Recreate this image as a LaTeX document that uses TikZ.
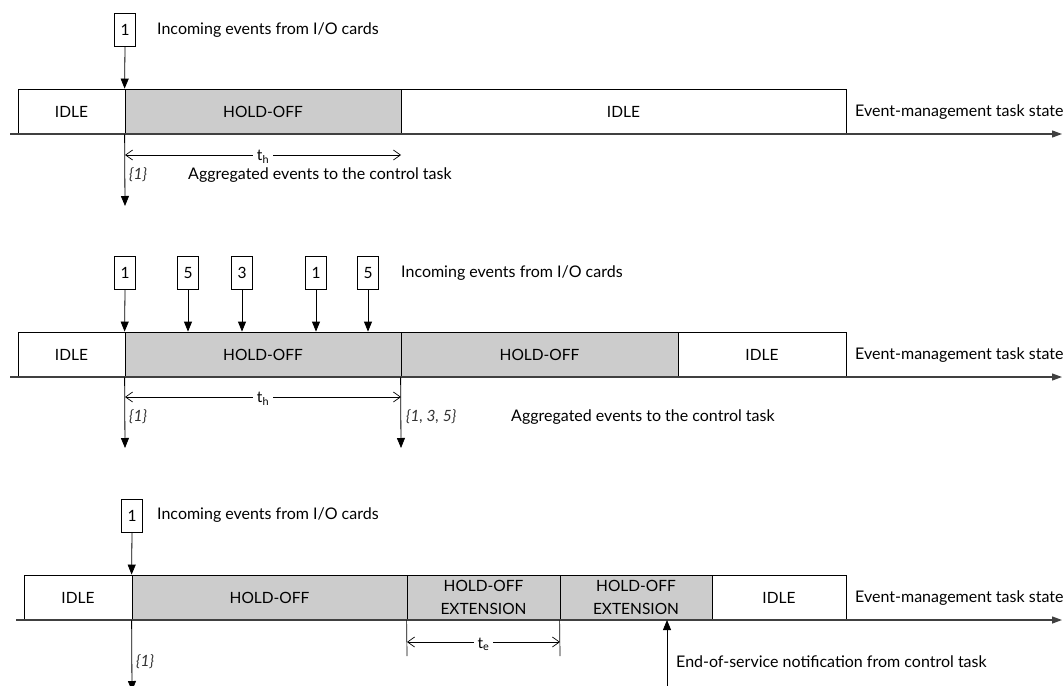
\documentclass[tikz,border=0pt]{standalone}
\usepackage{fontspec}
\setmainfont{Lato}
\usetikzlibrary{arrows.meta}
\definecolor{holdgray}{RGB}{204,204,204}
\tikzset{
  seg/.style={draw, line width=0.8pt, minimum height=45pt, inner sep=0pt, font=\fontsize{15.5}{23}\selectfont, align=center},
  held/.style={seg, fill=holdgray},
  evbox/.style={draw, line width=0.7pt, minimum width=21pt, minimum height=33pt, inner sep=0pt, font=\fontsize{15.5}{17}\selectfont},
  txt/.style={anchor=west, inner sep=0pt, font=\fontsize{16}{18}\selectfont},
  itxt/.style={anchor=west, inner sep=0pt, font=\fontsize{15.5}{17}\selectfont\itshape, text=black!80},
  evarrow/.style={line width=0.8pt, -{Triangle[length=10pt,width=8pt]}},
  axisline/.style={line width=1.2pt, draw=black!75, -{Triangle[length=10pt,width=7pt]}},
  dimline/.style={line width=0.7pt, {Straight Barb[length=7pt,width=10pt]}-{Straight Barb[length=7pt,width=10pt]}},
  dimlabel/.style={fill=white, inner sep=4pt, font=\fontsize{15.5}{17}\selectfont},
  tick/.style={line width=0.7pt}
}
\begin{document}
\begin{tikzpicture}[x=1pt, y=-1pt]
\useasboundingbox (0,0) rectangle (1064,685);
\clip (0,0) rectangle (1064,685);

% ---------- first time line: single event ----------
\node[seg,  minimum width=107pt] (a1) at (71.5,111.5) {IDLE};
\node[held, minimum width=276pt] (a2) at (263,111.5) {HOLD-OFF};
\node[seg,  minimum width=445pt] (a3) at (623.5,111.5) {IDLE};
\node[txt] (astate) at (855,112) {Event-management task state};
\coordinate (aax0) at (10,134);
\coordinate (aax1) at (1062,134);
\draw[axisline] (aax0) -- (aax1);

\node[evbox] (ae1) at (125,29.5) {1};
\node[txt] (ain) at (157,30) {Incoming events from I/O cards};
\draw[evarrow] (ae1.south) -- (a2.north west);

\coordinate (ad0) at (125,155);
\coordinate (ad1) at (401,155);
\draw[dimline] (ad0) -- (ad1);
\node[dimlabel] (ath) at (263,157) {t\textsubscript{h}};

\coordinate (aout) at (125,206);
\draw[evarrow] (a2.south west) -- (aout);
\node[itxt] (aset) at (129,175) {\{1\}};
\node[txt] (aagg) at (188,175) {Aggregated events to the control task};

% ---------- second time line: events during hold-off ----------
\node[seg,  minimum width=107pt] (b1) at (71.5,354.5) {IDLE};
\node[held, minimum width=276pt] (b2) at (263,354.5) {HOLD-OFF};
\node[held, minimum width=277pt] (b3) at (539.5,354.5) {HOLD-OFF};
\node[seg,  minimum width=168pt] (b4) at (762,354.5) {IDLE};
\node[txt] (bstate) at (855,355) {Event-management task state};
\coordinate (bax0) at (10,377);
\coordinate (bax1) at (1062,377);
\draw[axisline] (bax0) -- (bax1);

\node[evbox] (be1) at (125,273) {1};
\node[evbox] (be2) at (188,273) {5};
\node[evbox] (be3) at (242,273) {3};
\node[evbox] (be4) at (316,273) {1};
\node[evbox] (be5) at (368,273) {5};
\node[txt] (bin) at (401,273) {Incoming events from I/O cards};
\draw[evarrow] (be1.south) -- (b2.north west);
\foreach \e in {be2,be3,be4,be5}
  \draw[evarrow] (\e.south) -- (\e.south |- b2.north);

\coordinate (bd0) at (125,397);
\coordinate (bd1) at (401,397);
\draw[dimline] (bd0) -- (bd1);
\node[dimlabel] (bth) at (263,399) {t\textsubscript{h}};

\coordinate (bout1) at (125,448);
\coordinate (bout2) at (401,448);
\draw[evarrow] (b2.south west) -- (bout1);
\draw[evarrow] (b3.south west) -- (bout2);
\node[itxt] (bset1) at (129,417) {\{1\}};
\node[itxt] (bset2) at (406,417) {\{1, 3, 5\}};
\node[txt] (bagg) at (511,417) {Aggregated events to the control task};

% ---------- third time line: hold-off extensions ----------
\node[seg,  minimum width=108pt] (c1) at (78,597.5) {IDLE};
\node[held, minimum width=275pt] (c2) at (269.5,597.5) {HOLD-OFF};
\node[held, minimum width=153pt] (c3) at (483.5,597.5) {HOLD-OFF\\EXTENSION};
\node[held, minimum width=152pt] (c4) at (636,597.5) {HOLD-OFF\\EXTENSION};
\node[seg,  minimum width=134pt] (c5) at (779,597.5) {IDLE};
\node[txt] (cstate) at (855,598) {Event-management task state};
\coordinate (cax0) at (16,620);
\coordinate (cax1) at (1062,620);
\draw[axisline] (cax0) -- (cax1);

\node[evbox] (ce1) at (132,515.5) {1};
\node[txt] (cin) at (157,515) {Incoming events from I/O cards};
\draw[evarrow] (ce1.south) -- (c2.north west);

\coordinate (ct0) at (407,656);
\coordinate (ct1) at (560,656);
\draw[tick] (c3.south west) -- (ct0);
\draw[tick] (c4.south west) -- (ct1);
\coordinate (cd0) at (407,642);
\coordinate (cd1) at (560,642);
\draw[dimline] (cd0) -- (cd1);
\node[dimlabel] (cte) at (483.5,644) {t\textsubscript{e}};

\coordinate (cout) at (132,691);
\draw[evarrow] (c2.south west) -- (cout);
\node[itxt] (cset) at (136,662) {\{1\}};

\coordinate (cnote) at (667,690);
\coordinate (cend) at (667,620);
\draw[evarrow] (cnote) -- (cend);
\node[txt] (ceos) at (676,662) {End-of-service notification from control task};
\end{tikzpicture}
\end{document}
